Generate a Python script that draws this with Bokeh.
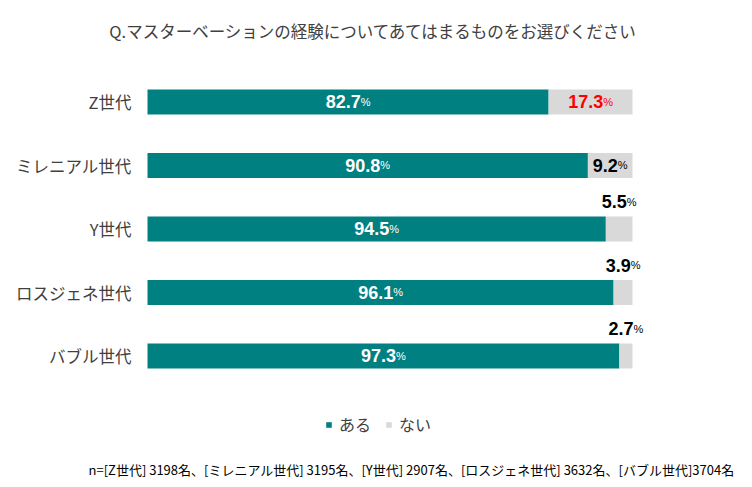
from bokeh.plotting import figure
from bokeh.models import Range1d, Label, Legend, LegendItem, ColumnDataSource
from bokeh.core.properties import value
from bokeh.embed import file_html
from bokeh.resources import INLINE

# ---- data ----
categories = ["Z世代", "ミレニアル世代", "Y世代", "ロスジェネ世代", "バブル世代"]
aru = [82.7, 90.8, 94.5, 96.1, 97.3]
nai = [17.3, 9.2, 5.5, 3.9, 2.7]
series_names = ["ある", "ない"]
title_text = "Q.マスターベーションの経験についてあてはまるものをお選びください"
note_text = "n=[Z世代] 3198名、[ミレニアル世代] 3195名、[Y世代] 2907名、[ロスジェネ世代] 3632名、[バブル世代]3704名"

# ---- style / layout ----
TEAL = "#008080"
GRAY = "#D9D9D9"
TXT = "#404040"
JP = "Noto Sans CJK JP"
NUMF = "Liberation Sans"
W, H = 744, 487
PX_X = 4.85      # px per percent
X0 = 147         # frame px of 0%
PX_Y = 63.5      # px per row
Y0 = 101.5       # frame px (from top) of first row centre
BAR_H = 25 / PX_Y
NUM_FS = 18
PCT_FS = 11

p = figure(width=W, height=H, output_backend="svg", toolbar_location=None,
           x_range=Range1d(-X0 / PX_X, (W - X0) / PX_X),
           y_range=Range1d(-(H - Y0) / PX_Y, Y0 / PX_Y),
           x_axis_location=None, y_axis_location=None, min_border=0)
p.grid.visible = False
p.outline_line_color = None
p.background_fill_color = "white"
p.border_fill_color = "white"

ys = [-i for i in range(len(categories))]
tot = [a + b for a, b in zip(aru, nai)]

r1 = p.hbar(y=ys, left=0, right=aru, height=BAR_H, fill_color=TEAL, line_color=None)
r2 = p.hbar(y=ys, left=aru, right=tot, height=BAR_H, fill_color=GRAY, line_color=None)

# category labels
p.text(x=[0] * len(ys), y=ys, text=categories, x_offset=-16,
       text_align="right", text_baseline="middle",
       text_font=value(JP), text_font_size="16.5px", text_color=TXT)

# value labels
def num_w(s):
    return sum(0.278 if ch == "." else 0.556 for ch in s) * NUM_FS

pct_w = 0.889 * PCT_FS
lx, ly, lt, lxo, lyo, lc = [], [], [], [], [], []
for y, a, b in zip(ys, aru, nai):
    s = f"{a:.1f}"
    wn = num_w(s)
    lx.append(a / 2); ly.append(y); lt.append(s)
    lxo.append(-(wn + pct_w) / 2 + wn); lyo.append(-0.5); lc.append("white")
    s = f"{b:.1f}"
    wn = num_w(s)
    lx.append(a + b / 2); ly.append(y); lt.append(s)
    lxo.append(-(wn + pct_w) / 2 + wn)
    lyo.append(-0.5 if b >= 8 else -27.5)
    lc.append("#FF0000" if b > 15 else "#000000")

src = ColumnDataSource(dict(x=lx, y=ly, t=lt, xo=lxo, yo=lyo, c=lc,
                            pct=["%"] * len(lx)))
p.text(x="x", y="y", text="t", x_offset="xo", y_offset="yo", text_color="c",
       source=src, text_align="right", text_baseline="alphabetic",
       text_font=value(NUMF), text_font_style="bold", text_font_size=f"{NUM_FS}px")
p.text(x="x", y="y", text="pct", x_offset="xo", y_offset="yo", text_color="c",
       source=src, text_align="left", text_baseline="alphabetic",
       text_font=value(NUMF), text_font_size=f"{PCT_FS}px")

# title and footnote
p.add_layout(Label(x=373, y=H - 30, x_units="screen", y_units="screen",
                   text=title_text, text_align="center", text_baseline="middle",
                   text_font=JP, text_font_size="16.5px", text_color=TXT))
p.add_layout(Label(x=88, y=H - 469, x_units="screen", y_units="screen",
                   text=note_text, text_align="left", text_baseline="middle",
                   text_font=JP, text_font_size="13px", text_color="#000000"))

legend = Legend(items=[LegendItem(label=series_names[0], renderers=[r1]),
                       LegendItem(label=series_names[1], renderers=[r2])],
                orientation="horizontal", location=(325, H - 436),
                glyph_width=7, glyph_height=7, label_standoff=7, spacing=14,
                padding=0, margin=0, border_line_color=None,
                background_fill_alpha=0,
                label_text_font=JP, label_text_font_size="16px",
                label_text_color=TXT, label_height=20)
p.add_layout(legend)

open("out.html", "w").write(file_html(p, INLINE))
